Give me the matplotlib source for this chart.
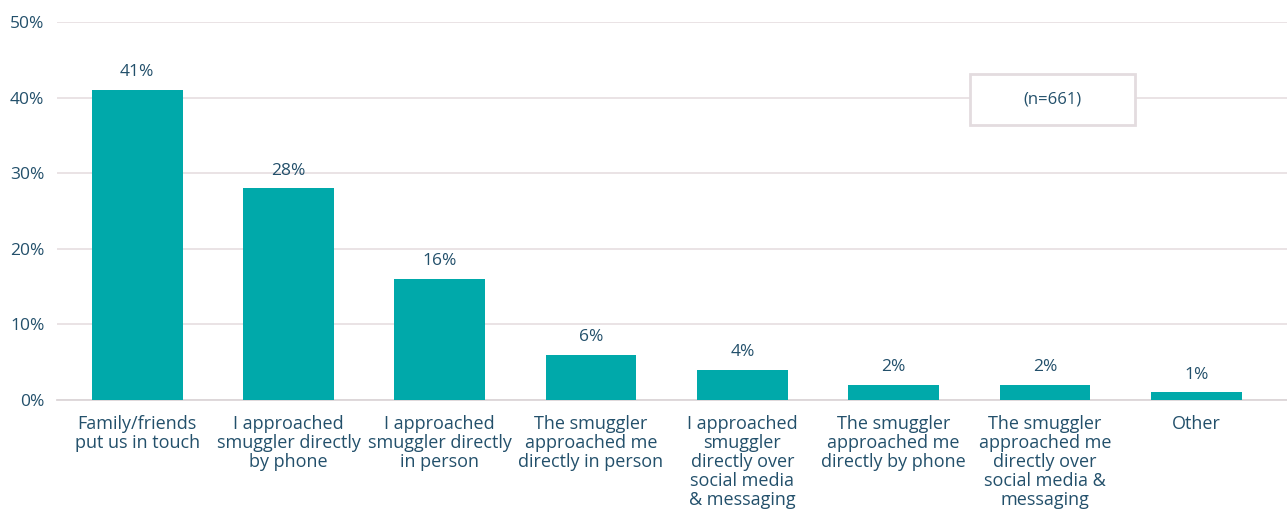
import matplotlib
matplotlib.use("Agg")
import matplotlib.pyplot as plt
from matplotlib.patches import Rectangle

categories = [
    "Family/friends\nput us in touch",
    "I approached\nsmuggler directly\nby phone",
    "I approached\nsmuggler directly\nin person",
    "The smuggler\napproached me\ndirectly in person",
    "I approached\nsmuggler\ndirectly over\nsocial media\n& messaging",
    "The smuggler\napproached me\ndirectly by phone",
    "The smuggler\napproached me\ndirectly over\nsocial media &\nmessaging",
    "Other",
]
values = [41, 28, 16, 6, 4, 2, 2, 1]
y_ticks = [0, 10, 20, 30, 40, 50]
y_tick_labels = ["0%", "10%", "20%", "30%", "40%", "50%"]
sample_note = "(n=661)"

TEXT = "#23506b"
BAR = "#00a9aa"
GRID = "#e8e0e3"

plt.rcParams["font.family"] = ["Open Sans", "DejaVu Sans"]

fig = plt.figure(figsize=(12.87, 5.09), dpi=100)
ax = fig.add_axes([57 / 1287, 1 - 400 / 509, 1 - 57 / 1287, (400 - 22) / 509])

x = list(range(len(values)))
ax.bar(x, values, width=0.6, color=BAR, zorder=3)

for xi, v in zip(x, values):
    ax.annotate(f"{v}%", (xi, v), xytext=(0, 7), textcoords="offset points",
                ha="center", va="bottom", fontsize=12.5, color=TEXT)

ax.set_xlim(-0.53, 7.6)
ax.set_ylim(0, 50)
ax.set_yticks(y_ticks)
ax.set_yticklabels(y_tick_labels, fontsize=12.5, color=TEXT)
ax.set_xticks(x)
ax.set_xticklabels(categories, fontsize=13, color=TEXT, linespacing=1.08, va="top")
ax.tick_params(axis="both", length=0)
ax.tick_params(axis="x", pad=10.5)
ax.tick_params(axis="y", pad=9)

ax.grid(axis="y", color=GRID, linewidth=1.3, zorder=0)
ax.set_axisbelow(True)
for side in ["top", "right", "left"]:
    ax.spines[side].set_visible(False)
ax.spines["bottom"].set_color("#dcd6d8")
ax.spines["bottom"].set_linewidth(1.3)

# sample size box
box = Rectangle((970 / 1287, 1 - 125 / 509), 165 / 1287, 51 / 509,
                transform=fig.transFigure, facecolor="white",
                edgecolor="#e3dcdf", linewidth=2, zorder=5)
fig.patches.append(box)
fig.text(1052 / 1287, 1 - 100 / 509, sample_note, ha="center", va="center",
         fontsize=12, color=TEXT, zorder=6)

fig.savefig("out.png", dpi=100)
